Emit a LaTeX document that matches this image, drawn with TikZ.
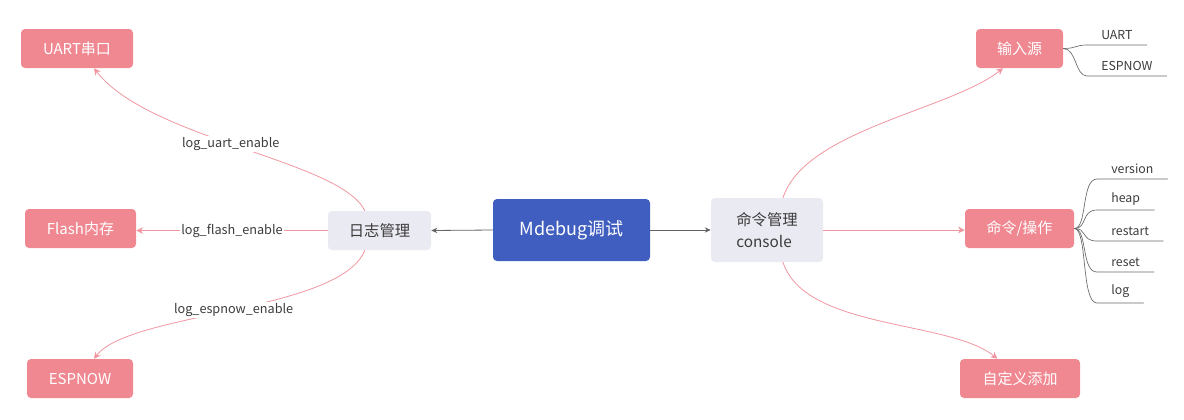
\documentclass[tikz,border=0pt]{standalone}
\usepackage{fontspec}
\setmainfont{Noto Sans CJK SC}
\usetikzlibrary{arrows.meta}
\definecolor{pinkbox}{RGB}{240,136,146}
\definecolor{pinkline}{RGB}{240,150,160}
\definecolor{greybox}{RGB}{234,234,242}
\definecolor{bluebox}{RGB}{64,94,191}
\definecolor{inkgrey}{RGB}{60,60,60}
\definecolor{leafgrey}{RGB}{105,105,105}
\begin{document}
\begin{tikzpicture}[x=0.75pt, y=-0.75pt, line cap=round,
  every node/.style={font=\fontsize{9.5}{11}\selectfont, text=inkgrey},
  topic/.style={fill=pinkbox, rounded corners=3pt, minimum height=29.25pt, inner sep=2pt,
    text=white, font=\fontsize{11.25}{13}\selectfont},
  mid/.style={fill=greybox, rounded corners=3pt, minimum height=29.25pt, inner sep=2pt,
    font=\fontsize{11.5}{17}\selectfont},
  root/.style={fill=bluebox, rounded corners=3pt, minimum width=117.75pt, minimum height=46.5pt,
    text=white, font=\fontsize{13.5}{16}\selectfont},
  leaf/.style={anchor=south west, inner xsep=10.5pt, inner ysep=3.5pt, font=\fontsize{9.25}{11}\selectfont},
  pinkarrow/.style={draw=pinkline, line width=0.6pt, -{Stealth[length=5pt, width=5pt]}},
  greyarrow/.style={draw=inkgrey!80, line width=0.6pt, -{Stealth[length=4.5pt, width=4pt]}},
  leafline/.style={draw=leafgrey, line width=0.5pt},
  edgelabel/.style={fill=white, inner sep=1pt}]

\useasboundingbox (0,0) rectangle (1184,419);

% centre and the two managers
\node[root] (mdebug) at (571.5,230) {Mdebug调试};
\node[mid, minimum width=77.25pt] (logmgr) at (379.5,230.5) {日志管理};
\node[mid, minimum width=84pt, minimum height=48pt, align=left] (cmdmgr) at (767,230) {命令管理\\console};
\draw[greyarrow] (mdebug.west) -- (logmgr.east);
\draw[greyarrow] (mdebug.east) -- (cmdmgr.west);

% left side: where the log goes
\node[topic, minimum width=84pt] (uart) at (77,48.5) {UART串口};
\node[topic, minimum width=83.25pt] (flash) at (80.5,228.5) {Flash内存};
\node[topic, minimum width=79.5pt] (espnow) at (80,378.5) {ESPNOW};
\draw[pinkarrow] ([xshift=-11pt]logmgr.north) .. controls (340,160) and (150,140) .. ([xshift=12.75pt]uart.south)
  node[edgelabel, pos=0.53] (lbuart) {log\_uart\_enable};
\draw[pinkarrow] (logmgr.west) -- (logmgr.west -| flash.east)
  node[edgelabel, midway] (lbflash) {log\_flash\_enable};
\draw[pinkarrow] ([xshift=-11pt]logmgr.south) .. controls (340,312) and (130,312) .. ([xshift=10.5pt]espnow.north)
  node[edgelabel, pos=0.5] (lbespnow) {log\_espnow\_enable};

% right side: console
\node[topic, minimum width=65.25pt] (source) at (1019.5,48.5) {输入源};
\node[topic, minimum width=81.75pt] (cmdop) at (1019.5,228.5) {命令/操作};
\node[topic, minimum width=90pt] (custom) at (1020,378.5) {自定义添加};
\draw[pinkarrow] ([xshift=12pt]cmdmgr.north) .. controls (805,130) and (950,110) .. ([xshift=-12.4pt]source.south);
\draw[pinkarrow] (cmdmgr.east) -- (cmdmgr.east -| cmdop.west);
\draw[pinkarrow] ([xshift=12pt]cmdmgr.south) .. controls (805,330) and (950,320) .. ([xshift=-17pt]custom.north);

% leaves of the input source
\node[leaf] (luart) at (1087,45) {UART};
\node[leaf] (lespnow) at (1087,76) {ESPNOW};
\foreach \lf in {luart, lespnow}
  \draw[leafline] (source.east) .. controls ([xshift=10pt]source.east) and ([xshift=-9pt]\lf.south west) .. (\lf.south west) -- (\lf.south east);

% leaves of the commands
\node[leaf] (lversion) at (1097,179) {version};
\node[leaf] (lheap) at (1097,210) {heap};
\node[leaf] (lrestart) at (1097,241) {restart};
\node[leaf] (lreset) at (1097,272) {reset};
\node[leaf] (llog) at (1097,303) {log};
\foreach \lf in {lversion, lheap, lrestart, lreset, llog}
  \draw[leafline] (cmdop.east) .. controls ([xshift=10pt]cmdop.east) and ([xshift=-12pt]\lf.south west) .. (\lf.south west) -- (\lf.south east);

\end{tikzpicture}
\end{document}
